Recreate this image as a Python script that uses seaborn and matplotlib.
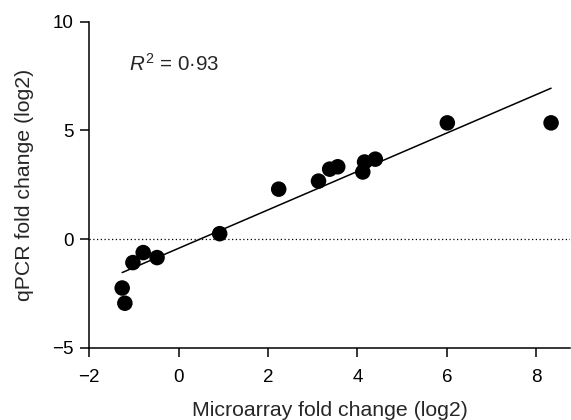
import matplotlib
matplotlib.use("Agg")
import matplotlib.pyplot as plt
import seaborn as sns
import pandas as pd

microarray = [-1.26, -1.20, -1.02, -0.79, -0.48, 0.92, 2.24, 3.13, 3.38, 3.56, 4.12, 4.16, 4.40, 6.01, 8.33]
qpcr = [-2.25, -2.95, -1.08, -0.62, -0.85, 0.25, 2.30, 2.67, 3.22, 3.33, 3.09, 3.55, 3.68, 5.35, 5.35]
xticks = [-2, 0, 2, 4, 6, 8]
yticks = [-5, 0, 5, 10]

df = pd.DataFrame({"x": microarray, "y": qpcr})

sns.set_style("ticks")
plt.rcParams['font.family'] = ['Liberation Sans', 'DejaVu Sans']
plt.rcParams['mathtext.fontset'] = 'custom'
plt.rcParams['mathtext.it'] = 'Liberation Sans:italic'
plt.rcParams['mathtext.rm'] = 'Liberation Sans'

fig = plt.figure(figsize=(5.71, 4.20), dpi=100)
ax = fig.add_axes([0.156, 0.172, 0.842, 0.776])

ax.axhline(0, color="black", lw=0.9, ls=(0, (1, 2)))
sns.regplot(data=df, x="x", y="y", ci=None, ax=ax, truncate=True,
            scatter_kws=dict(s=125, color="black", edgecolor="none", alpha=1),
            line_kws=dict(color="black", lw=1.1))

ax.set_xlim(-2, 8.75)
ax.set_ylim(-5, 10)
ax.set_xticks(xticks)
ax.set_xticklabels(["\u22122" if t == -2 else str(t) for t in xticks])
ax.set_yticks(yticks)
ax.set_yticklabels(["\u22125" if t == -5 else str(t) for t in yticks])
ax.tick_params(direction="out", length=6.5, width=1.1, labelsize=13.5, colors="black")
ax.tick_params(axis="x", pad=8.5)
ax.tick_params(axis="y", pad=4.5)
for s in ["top", "right"]:
    ax.spines[s].set_visible(False)
for s in ["left", "bottom"]:
    ax.spines[s].set_linewidth(1.1)
    ax.spines[s].set_color("black")
ax.set_xlabel("Microarray fold change (log2)", fontsize=15.3, labelpad=11)
ax.set_ylabel("qPCR fold change (log2)", fontsize=15.3, labelpad=13)
ax.text(-1.1, 8.05, "$R^2$ = 0\u00b793", fontsize=14.8, va="center", ha="left")

fig.savefig("out.png", dpi=100)
